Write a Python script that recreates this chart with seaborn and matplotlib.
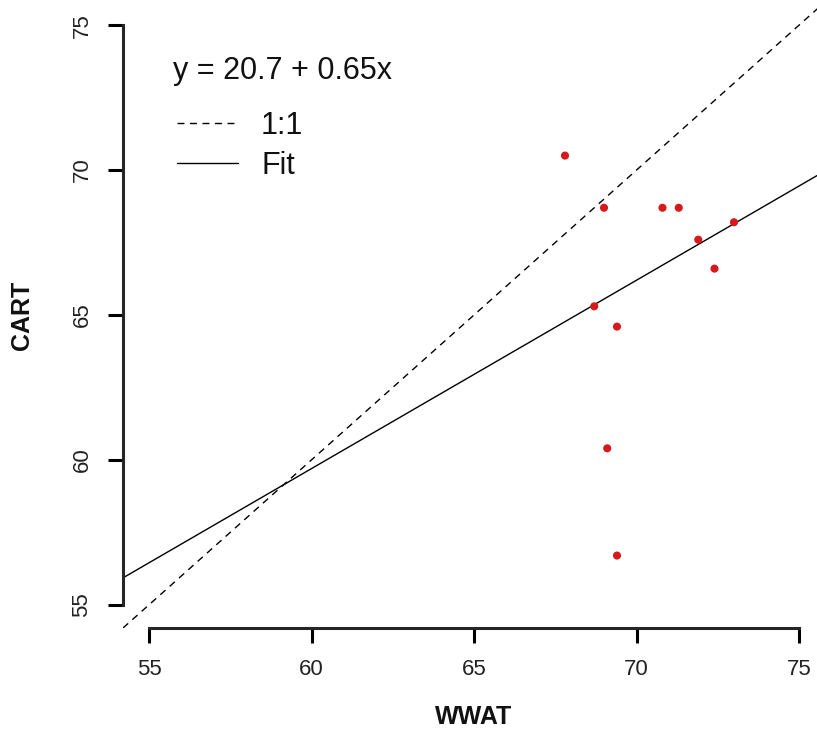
import pandas as pd
import matplotlib.pyplot as plt
import seaborn as sns
from matplotlib.lines import Line2D

# Style (R base-graphics look)
sns.set_theme(style="ticks")
plt.rcParams['font.family'] = ['Liberation Sans', 'DejaVu Sans']

# Data
wwat = [67.8, 69.0, 70.8, 71.3, 73.0, 71.9, 72.4, 68.7, 69.4, 69.1, 69.4]
cart = [70.5, 68.7, 68.7, 68.7, 68.2, 67.6, 66.6, 65.3, 64.6, 60.4, 56.7]
intercept = 20.7
slope = 0.65
ticks = [55, 60, 65, 70, 75]

df = pd.DataFrame({'WWAT': wwat, 'CART': cart})

W, H = 817, 736
fig = plt.figure(figsize=(W / 100, H / 100), dpi=100)
# plot region: left edge at px 123, bottom at px 628, top at px 2, right beyond the image
ax = fig.add_axes([123 / W, (H - 628) / H, 702 / W, 626 / H])

sns.scatterplot(data=df, x='WWAT', y='CART', color='#d7191c', s=34,
                edgecolor='none', ax=ax, zorder=3)

dash = (0, (5, 4))
ax.axline((55, 55), slope=1, color='black', lw=1.0, linestyle=dash)
ax.axline((55, intercept + slope * 55), slope=slope, color='black', lw=1.0)

ax.set_xlim(54.2, 75.8)
ax.set_ylim(54.2, 75.8)
ax.set_xticks(ticks)
ax.set_yticks(ticks)
ax.set_xticklabels([str(t) for t in ticks], fontsize=16)
ax.set_yticklabels([str(t) for t in ticks], fontsize=16, rotation=90, va='center')

for side in ['top', 'right']:
    ax.spines[side].set_visible(False)
ax.spines['left'].set_bounds(55, 75)
ax.spines['bottom'].set_bounds(55, 75)
ax.spines['left'].set_linewidth(2.2)
ax.spines['bottom'].set_linewidth(2.2)
ax.tick_params(axis='both', length=11, width=2.2, color='black', labelcolor='#222222')
ax.tick_params(axis='x', pad=11)
ax.tick_params(axis='y', pad=11)

ax.set_xlabel('WWAT', fontsize=18, fontweight='bold', labelpad=18, color='#111111')
ax.set_ylabel('CART', fontsize=18, fontweight='bold', labelpad=27, color='#111111')

# Equation and legend
fig.text(173 / W, 1 - 71 / H, 'y = 20.7 + 0.65x', fontsize=22, va='center', ha='left',
         color='#111111')
handles = [Line2D([], [], color='black', lw=1.0, linestyle=dash),
           Line2D([], [], color='black', lw=1.0)]
fig.legend(handles, ['1:1', 'Fit'], loc='upper left',
           bbox_to_anchor=(177 / W, 1 - 111 / H), frameon=False, fontsize=22,
           handlelength=2.0, handletextpad=0.75, labelspacing=0.33, borderpad=0,
           borderaxespad=0, labelcolor='#111111')

plt.savefig('out.png', dpi=100)
plt.close()
